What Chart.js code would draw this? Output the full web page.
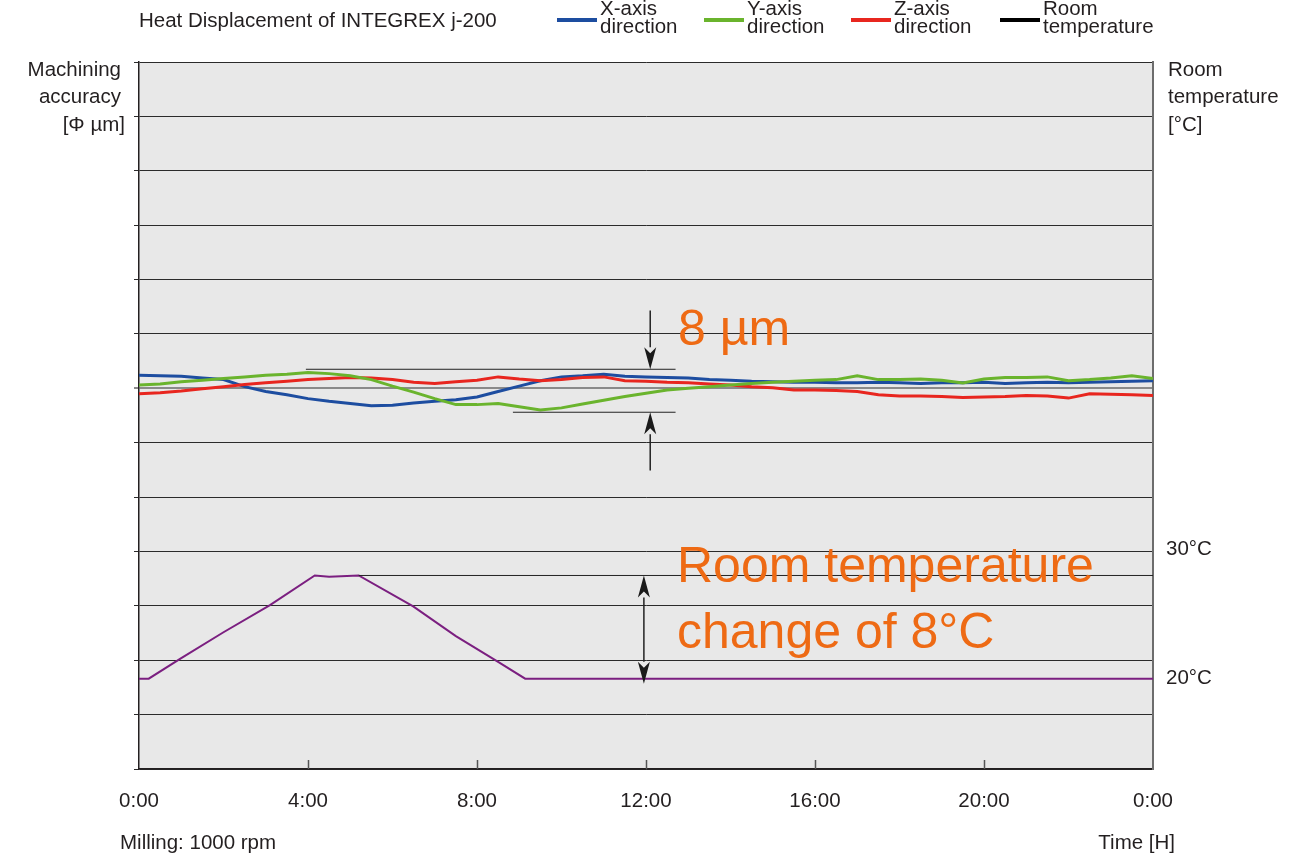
<!DOCTYPE html>
<html>
<head>
<meta charset="utf-8">
<script src="https://cdn.jsdelivr.net/npm/chart.js@4.4.1/dist/chart.umd.min.js"></script>
<style>
  html, body { margin: 0; padding: 0; background: #fff; }
  #wrap { position: relative; width: 1308px; height: 853px; }
</style>
</head>
<body>
<div id="wrap"><canvas id="chart"></canvas></div>
<script>
/* Heat displacement chart — INTEGREX j-200 */

// time axis [h], every half hour
const timeH = [0,0.5,1,1.5,2,2.5,3,3.5,4,4.5,5,5.5,6,6.5,7,7.5,8,8.5,9,9.5,10,10.5,11,11.5,12,
  12.5,13,13.5,14,14.5,15,15.5,16,16.5,17,17.5,18,18.5,19,19.5,20,20.5,21,21.5,22,22.5,23,23.5,24];

// displacement [µm]
const xAxisUm = [2.4,2.3,2.2,1.9,1.6,0.3,-0.6,-1.2,-1.9,-2.4,-2.8,-3.2,-3.1,-2.7,-2.4,-2.1,-1.6,-0.6,0.4,1.4,2.1,2.3,2.6,2.2,2.1,
  2.0,1.9,1.6,1.5,1.3,1.2,1.1,1.1,1.0,1.0,1.1,1.0,0.9,1.0,1.0,1.1,0.9,1.0,1.1,1.0,1.1,1.2,1.3,1.4];
const yAxisUm = [0.6,0.8,1.2,1.5,1.8,2.1,2.4,2.6,2.9,2.7,2.3,1.6,0.4,-0.7,-1.9,-3.0,-3.0,-2.8,-3.4,-4.0,-3.6,-2.9,-2.2,-1.5,-0.9,
  -0.3,0.0,0.3,0.6,0.9,1.1,1.3,1.5,1.6,2.3,1.6,1.6,1.7,1.5,1.0,1.7,2.0,2.0,2.1,1.4,1.6,1.9,2.3,1.8];
const zAxisUm = [-1.0,-0.8,-0.5,-0.1,0.3,0.7,1.0,1.3,1.6,1.8,2.0,1.9,1.6,1.1,0.9,1.2,1.5,2.1,1.7,1.4,1.6,2.0,2.1,1.4,1.3,
  1.1,1.0,0.8,0.6,0.3,0.1,-0.3,-0.3,-0.4,-0.6,-1.2,-1.4,-1.4,-1.5,-1.7,-1.6,-1.5,-1.3,-1.4,-1.8,-1.0,-1.1,-1.2,-1.3];

// room temperature [°C]
const tempH = [0,0.23,1,2,3.1,4.16,4.5,5.2,6.49,7.5,8.5,9.14,13,16,19,24];
const tempC = [20,20,21.6,23.6,25.7,28,27.9,28,25.6,23.3,21.3,20,20,20,20,20];

// ticks
const timeTicks = [0,4,8,12,16,20,24];
const tempTicks = [20,30];

// annotation values
const bandTopUm = 3.5, bandBottomUm = -4.4;
const tempLow = 20, tempHigh = 28;

const FONT = '"Liberation Sans", Arial, Helvetica, sans-serif';
const TEXT = '#231f20';
const ORANGE = '#ee6a14';
const SMALL = '20.5px ' + FONT;
const SERIES = [
  { label: ['X-axis', 'direction'], color: '#1d4da0' },
  { label: ['Y-axis', 'direction'], color: '#6ab42d' },
  { label: ['Z-axis', 'direction'], color: '#e8261f' },
  { label: ['Room', 'temperature'], color: '#000000' }
];

Chart.defaults.font.family = FONT;
Chart.defaults.color = TEXT;

const pts = (xs, ys) => xs.map((x, i) => ({ x, y: ys[i] }));

/* ── Helpers ── */
function arrowV(ctx, x, yFrom, yTo) {
  const dir = yTo > yFrom ? 1 : -1;
  const headLen = 22, half = 6;
  ctx.beginPath();
  ctx.moveTo(x, yFrom);
  ctx.lineTo(x, yTo - dir * headLen);
  ctx.stroke();
  ctx.beginPath();
  ctx.moveTo(x, yTo);
  ctx.lineTo(x - half, yTo - dir * headLen);
  ctx.lineTo(x, yTo - dir * (headLen - 6));
  ctx.lineTo(x + half, yTo - dir * headLen);
  ctx.closePath();
  ctx.fill();
}

function hLine(ctx, x1, x2, y) {
  ctx.beginPath();
  ctx.moveTo(x1, y);
  ctx.lineTo(x2, y);
  ctx.stroke();
}

const decor = {
  id: 'decor',
  beforeDraw(chart) {
    const { ctx, chartArea: a } = chart;
    ctx.save();
    ctx.fillStyle = '#e8e8e8';
    ctx.fillRect(a.left, a.top, a.right - a.left, a.bottom - a.top);
    ctx.restore();
  },
  afterDatasetsDraw(chart) {
    const { ctx, chartArea: a } = chart;
    const xs = chart.scales.x, ys = chart.scales.y, ts = chart.scales.yT;
    ctx.save();

    // inner x ticks
    ctx.strokeStyle = '#555';
    ctx.lineWidth = 1.5;
    timeTicks.slice(1, -1).forEach(t => {
      const px = Math.round(xs.getPixelForValue(t)) + 0.5;
      ctx.beginPath();
      ctx.moveTo(px, a.bottom);
      ctx.lineTo(px, a.bottom - 9);
      ctx.stroke();
    });

    // 8 µm band
    ctx.strokeStyle = '#222';
    ctx.fillStyle = '#1a1a1a';
    ctx.lineWidth = 1;
    const yTop = ys.getPixelForValue(bandTopUm), yBot = ys.getPixelForValue(bandBottomUm);
    hLine(ctx, xs.getPixelForValue(3.95), xs.getPixelForValue(12.7), yTop);
    hLine(ctx, xs.getPixelForValue(8.85), xs.getPixelForValue(12.7), yBot);
    ctx.lineWidth = 1.5;
    const ax = xs.getPixelForValue(12.1);
    arrowV(ctx, ax, ys.getPixelForValue(14.3), yTop);
    arrowV(ctx, ax, ys.getPixelForValue(-15.1), yBot);

    // temperature change
    ctx.lineWidth = 1;
    const tHi = ts.getPixelForValue(tempHigh), tLo = ts.getPixelForValue(tempLow);
    hLine(ctx, xs.getPixelForValue(5.2), a.right, tHi);
    ctx.lineWidth = 1.5;
    const tx = xs.getPixelForValue(11.95);
    const mid = (tHi + tLo) / 2;
    arrowV(ctx, tx, mid, tHi);
    arrowV(ctx, tx, mid, tLo + 5);

    // big orange notes
    ctx.fillStyle = ORANGE;
    ctx.font = '50px ' + FONT;
    ctx.textAlign = 'left';
    ctx.textBaseline = 'middle';
    ctx.fillText('8 µm', 678, 331);
    ctx.fillText('Room temperature', 677, 568);
    ctx.fillText('change of 8°C', 677, 634);
    ctx.restore();
  },
  afterDraw(chart) {
    const { ctx } = chart;
    ctx.save();
    ctx.fillStyle = TEXT;
    ctx.font = SMALL;
    ctx.textBaseline = 'middle';

    ctx.textAlign = 'left';
    ctx.fillText('Heat Displacement of INTEGREX j-200', 139, 21);

    // legend
    const lx = [557, 704, 851, 1000];
    SERIES.forEach((s, i) => {
      ctx.fillStyle = s.color;
      ctx.fillRect(lx[i], 18, 40, 4);
      ctx.fillStyle = TEXT;
      ctx.fillText(s.label[0], lx[i] + 43, 9);
      ctx.fillText(s.label[1], lx[i] + 43, 27);
    });

    // axis titles
    ctx.textAlign = 'right';
    ctx.fillText('Machining', 121, 70);
    ctx.fillText('accuracy', 121, 97);
    ctx.fillText('[Φ µm]', 125, 125);
    ctx.textAlign = 'left';
    ctx.fillText('Room', 1168, 70);
    ctx.fillText('temperature', 1168, 97);
    ctx.fillText('[°C]', 1168, 125);
    ctx.fillText('Milling: 1000 rpm', 120, 843);
    ctx.textAlign = 'right';
    ctx.fillText('Time [H]', 1175, 843);
    ctx.restore();
  }
};

const line = (label, data, color, axis, order, width) => ({
  label, data, borderColor: color, backgroundColor: color, yAxisID: axis,
  borderWidth: width, pointRadius: 0, tension: 0, order
});

new Chart(document.getElementById('chart'), {
  type: 'line',
  data: {
    datasets: [
      line('Y-axis direction', pts(timeH, yAxisUm), '#6ab42d', 'y', 1, 3),
      line('Z-axis direction', pts(timeH, zAxisUm), '#e8261f', 'y', 2, 3),
      line('X-axis direction', pts(timeH, xAxisUm), '#1d4da0', 'y', 3, 3),
      line('Room temperature', pts(tempH, tempC), '#7b1f80', 'yT', 4, 2)
    ]
  },
  options: {
    responsive: true,
    maintainAspectRatio: false,
    animation: false,
    layout: { padding: { top: 62, left: 0, right: 0, bottom: 0 } },
    plugins: { legend: { display: false }, title: { display: false }, tooltip: { enabled: false } },
    scales: {
      x: {
        type: 'linear', min: 0, max: 24,
        afterBuildTicks: s => { s.ticks = timeTicks.map(v => ({ value: v })); },
        ticks: { callback: v => (v % 24) + ':00', font: { size: 20.5 }, color: TEXT, padding: 20, maxRotation: 0, autoSkip: false },
        grid: { display: false, drawTicks: false },
        border: { color: TEXT, width: 1.5 },
        afterFit: s => { s.height = 84; }
      },
      y: {
        type: 'linear', position: 'left', min: -70, max: 60,
        ticks: { stepSize: 10, display: false },
        grid: {
          color: c => c.tick && c.tick.value === 0 ? '#8a8a8a' : '#2b2b2b',
          lineWidth: c => c.tick && c.tick.value === 0 ? 2 : 1,
          tickLength: 5
        },
        border: { color: TEXT, width: 1.5 },
        afterFit: s => { s.width = 139; }
      },
      yT: {
        type: 'linear', position: 'right', min: 13, max: 67.8,
        afterBuildTicks: s => { s.ticks = tempTicks.map(v => ({ value: v })); },
        ticks: { callback: v => v + '°C', font: { size: 20.5 }, color: TEXT, padding: 13 },
        grid: { display: false, drawTicks: false },
        border: { color: '#6d6d6d', width: 2 },
        afterFit: s => { s.width = 155; }
      }
    }
  },
  plugins: [decor]
});
</script>
</body>
</html>
